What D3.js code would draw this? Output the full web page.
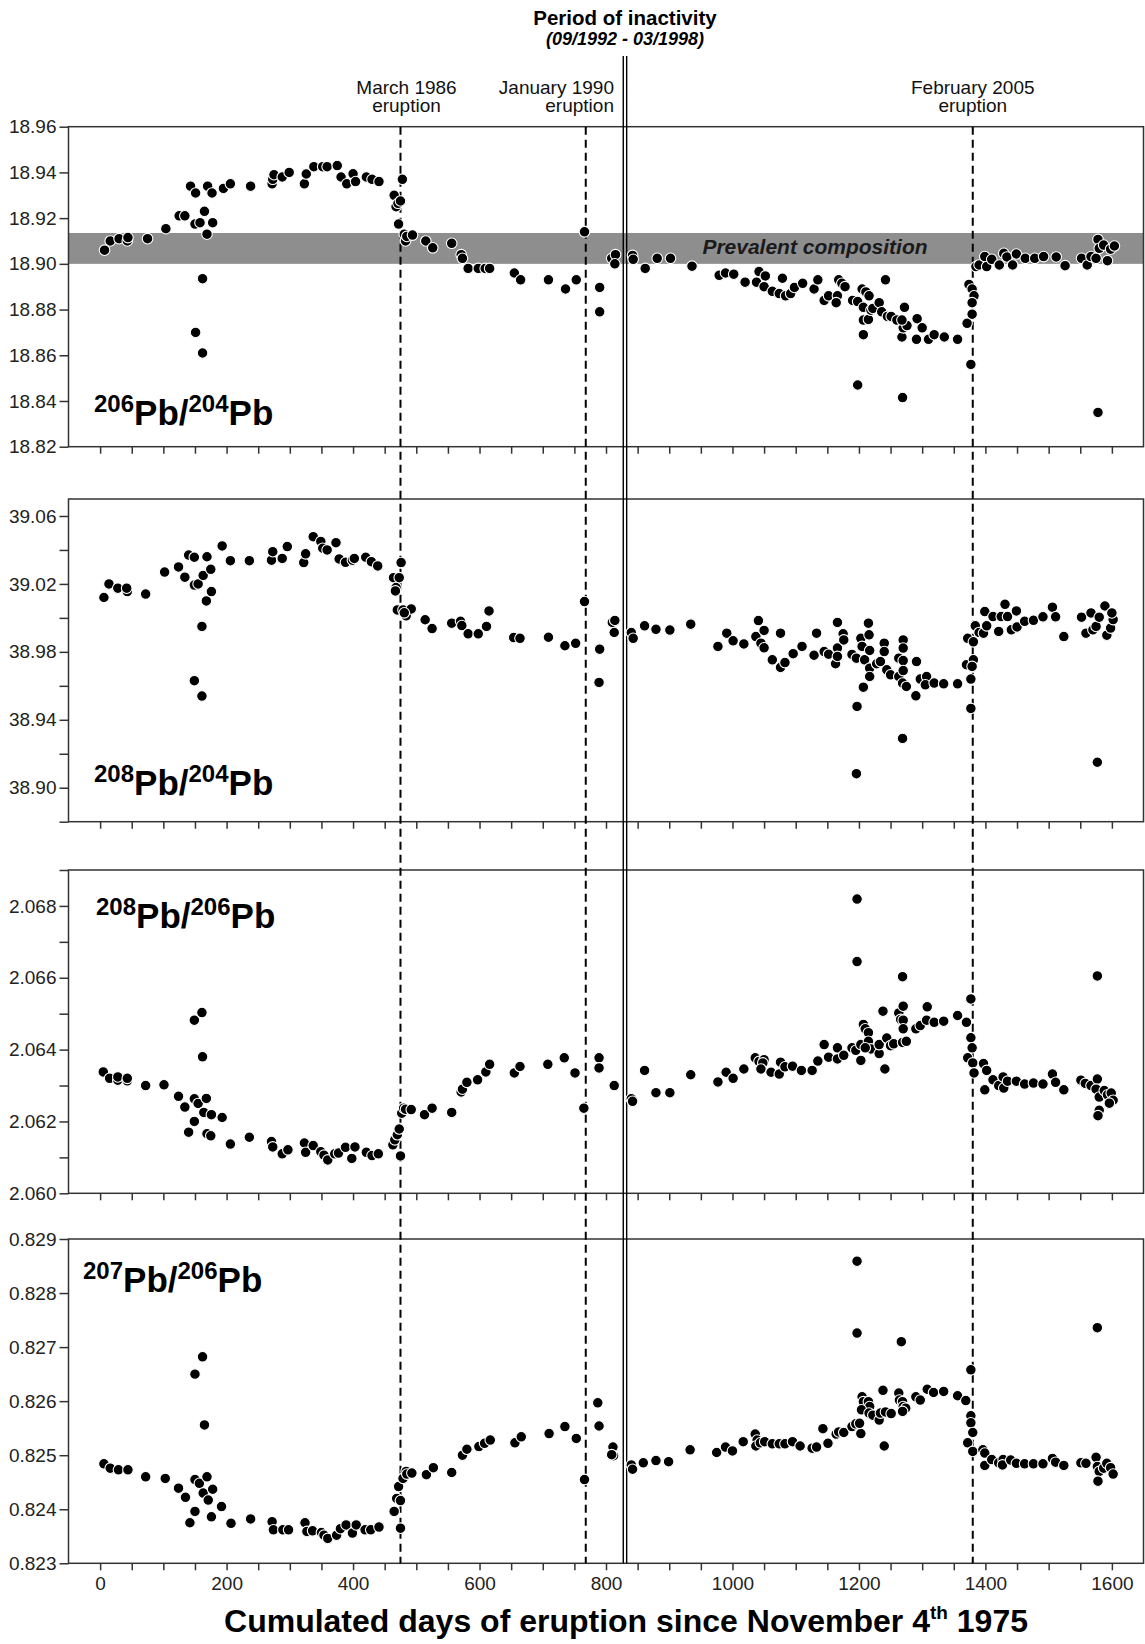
<!DOCTYPE html>
<html><head><meta charset="utf-8">
<script src="https://cdn.jsdelivr.net/npm/d3@7"></script>
<style>
html,body{margin:0;padding:0;background:#fff;}
svg text{font-family:"Liberation Sans",Arial,Helvetica,sans-serif;}
</style></head>
<body><svg id="chart" width="1145" height="1644"></svg>
<script>
// ---------------- DATA ----------------
const xTickLabels = [0,200,400,600,800,1000,1200,1400,1600];
const eruptionDays = [475, 768, 1380];
const eruptionLabels = [["March 1986","eruption"],["January 1990","eruption"],["February 2005","eruption"]];
const inactivityDay = 830;
const prevalentBand = [18.900, 18.9135];

const pb206_204 = [[7,18.906],[16,18.910],[30,18.911],[43,18.910],[44,18.9115],[75,18.911],[104,18.9154],[125,18.921],[134,18.921],[143,18.934],[151,18.931],[150,18.9174],[158,18.918],[165,18.923],[169,18.913],[162,18.8935],[151,18.870],[162,18.861],[170,18.934],[177,18.931],[178,18.918],[195,18.933],[206,18.935],[238,18.934],[272,18.935],[273,18.937],[275,18.939],[288,18.938],[299,18.940],[323,18.935],[326,18.9393],[338,18.9425],[352,18.9425],[359,18.9425],[375,18.943],[381,18.938],[390,18.935],[400,18.9394],[404,18.936],[421,18.938],[430,18.937],[441,18.936],[465,18.930],[468,18.925],[471,18.9265],[475,18.9275],[478,18.937],[472,18.9174],[481,18.913],[483,18.910],[485,18.912],[494,18.9126],[515,18.910],[526,18.907],[556,18.909],[571,18.904],[573,18.9024],[582,18.898],[598,18.898],[609,18.898],[616,18.898],[655,18.896],[665,18.893],[709,18.893],[736,18.889],[753,18.893],[766,18.914],[790,18.8897],[790,18.879],[809,18.9024],[815,18.904],[814,18.900],[842,18.9037],[843,18.902],[862,18.898],[881,18.9024],[902,18.9024],[936,18.899],[979,18.895],[989,18.896],[1002,18.8955],[1020,18.892],[1042,18.8966],[1038,18.892],[1052,18.8947],[1050,18.890],[1063,18.888],[1074,18.887],[1084,18.886],[1092,18.887],[1098,18.8897],[1111,18.8915],[1079,18.8937],[1129,18.889],[1135,18.893],[1145,18.884],[1152,18.886],[1166,18.886],[1164,18.883],[1168,18.893],[1173,18.8915],[1178,18.890],[1190,18.884],[1198,18.8835],[1205,18.889],[1211,18.8877],[1216,18.886],[1207,18.881],[1207,18.8754],[1207,18.869],[1215,18.8757],[1219,18.8797],[1222,18.8805],[1232,18.883],[1236,18.879],[1242,18.893],[1245,18.877],[1251,18.877],[1260,18.8754],[1268,18.868],[1270,18.872],[1272,18.881],[1276,18.873],[1268,18.8754],[1292,18.876],[1300,18.872],[1291,18.867],[1310,18.867],[1319,18.869],[1335,18.868],[1356,18.867],[1371,18.874],[1374,18.891],[1379,18.889],[1382,18.886],[1379,18.883],[1379,18.878],[1377,18.856],[1385,18.8988],[1390,18.8995],[1399,18.9032],[1402,18.8988],[1410,18.902],[1422,18.8995],[1429,18.9046],[1434,18.903],[1443,18.8995],[1449,18.9043],[1463,18.9024],[1478,18.9024],[1492,18.9032],[1512,18.903],[1526,18.8992],[1552,18.9024],[1561,18.8995],[1567,18.9032],[1575,18.9024],[1578,18.9107],[1580,18.9068],[1587,18.9082],[1593,18.9014],[1598,18.9064],[1604,18.9078],[1578,18.835],[1198,18.847],[1269,18.8415]];

const pb208_204 = [[6,39.012],[14,39.020],[28,39.0175],[43,39.0155],[42,39.0175],[72,39.014],[102,39.027],[124,39.030],[134,39.024],[140,39.037],[149,39.0357],[149,39.0193],[155,39.020],[163,39.025],[169,39.036],[168,39.010],[175,39.0286],[176,39.0155],[161,38.995],[149,38.963],[161,38.954],[193,39.0424],[206,39.0337],[236,39.0337],[271,39.034],[273,39.039],[288,39.035],[296,39.042],[322,39.0326],[325,39.0377],[337,39.0478],[349,39.045],[352,39.041],[359,39.040],[373,39.0443],[378,39.0347],[388,39.0327],[399,39.034],[402,39.035],[420,39.0357],[429,39.0331],[439,39.0306],[464,39.0237],[468,39.0179],[467,39.0159],[473,39.0237],[476,39.0326],[470,39.0047],[479,39.0047],[484,39.0012],[492,39.0053],[481,39.003],[514,38.9989],[525,38.9937],[556,38.9969],[570,38.998],[572,38.9955],[582,38.9906],[598,38.9906],[611,38.995],[615,39.0041],[654,38.9884],[664,38.988],[709,38.9886],[735,38.9836],[752,38.985],[766,39.0096],[790,38.9816],[789,38.962],[810,38.9973],[814,38.9985],[813,38.9914],[840,38.9914],[843,38.988],[861,38.9953],[879,38.9933],[901,38.9928],[934,38.9963],[977,38.9832],[991,38.991],[1001,38.9865],[1018,38.9847],[1041,38.9984],[1037,38.989],[1050,38.9926],[1045,38.9851],[1050,38.9824],[1063,38.9753],[1076,38.9708],[1083,38.9737],[1096,38.9789],[1110,38.9832],[1076,38.991],[1129,38.978],[1133,38.991],[1145,38.9802],[1152,38.9786],[1163,38.973],[1166,38.9822],[1166,38.9773],[1166,38.9973],[1175,38.9906],[1176,38.987],[1189,38.9785],[1196,38.9763],[1203,38.988],[1205,38.9832],[1209,38.9753],[1215,38.9969],[1216,38.990],[1217,38.9808],[1217,38.9704],[1217,38.9655],[1207,38.9592],[1197,38.9479],[1196,38.9083],[1228,38.973],[1234,38.9743],[1240,38.9851],[1240,38.9802],[1244,38.9694],[1250,38.9665],[1263,38.9763],[1263,38.9655],[1270,38.987],[1270,38.9822],[1270,38.9749],[1270,38.969],[1269,38.9616],[1275,38.9596],[1291,38.9743],[1290,38.9541],[1269,38.929],[1297,38.964],[1307,38.9655],[1305,38.9606],[1319,38.9616],[1334,38.9612],[1356,38.9612],[1370,38.9724],[1372,38.988],[1377,38.964],[1381,38.9859],[1381,38.9753],[1379,38.9714],[1377,38.9467],[1384,38.9953],[1390,38.9914],[1397,38.991],[1399,39.0037],[1402,38.9953],[1412,39.0008],[1421,38.992],[1425,39.0008],[1431,39.008],[1435,39.0008],[1441,38.993],[1449,39.0041],[1450,38.9947],[1462,38.998],[1476,38.9986],[1491,39.0006],[1506,39.0063],[1511,39.0006],[1524,38.989],[1552,39.0004],[1559,38.991],[1567,39.0029],[1570,38.993],[1575,38.995],[1580,39.0004],[1589,39.007],[1592,38.9898],[1598,38.994],[1602,38.999],[1600,39.0029],[1577,38.915]];

const pb208_206 = [[5,2.06338],[15,2.0632],[28,2.06315],[28,2.06324],[43,2.06313],[43,2.0632],[72,2.0630],[101,2.06302],[124,2.0627],[134,2.0624],[140,2.0617],[149,2.0620],[149,2.06263],[155,2.0625],[168,2.06264],[149,2.06482],[161,2.06503],[162,2.0638],[164,2.06225],[176,2.06219],[169,2.06166],[175,2.0616],[193,2.06211],[206,2.06137],[236,2.06156],[271,2.06144],[273,2.06129],[288,2.0611],[297,2.06121],[323,2.0614],[325,2.06114],[337,2.06133],[349,2.06116],[354,2.06106],[360,2.06093],[371,2.0611],[377,2.06112],[388,2.06128],[398,2.06097],[403,2.06129],[421,2.06114],[430,2.06105],[440,2.0611],[463,2.06135],[466,2.06149],[470,2.06163],[473,2.06179],[475,2.06104],[477,2.06223],[480,2.06237],[483,2.06234],[492,2.06233],[513,2.06219],[525,2.06237],[556,2.06225],[571,2.06282],[573,2.0629],[580,2.06309],[597,2.06316],[610,2.06338],[616,2.06359],[655,2.06335],[664,2.06353],[708,2.06359],[734,2.06377],[751,2.06335],[765,2.06237],[789,2.06377],[789,2.06349],[813,2.0630],[840,2.06263],[842,2.06256],[861,2.06342],[879,2.0628],[901,2.0628],[934,2.0633],[977,2.0631],[990,2.06337],[1001,2.0632],[1018,2.06346],[1036,2.06377],[1042,2.06367],[1050,2.06372],[1048,2.06363],[1045,2.06346],[1061,2.06337],[1074,2.06332],[1076,2.06365],[1083,2.06352],[1095,2.06354],[1109,2.06342],[1126,2.06342],[1135,2.06368],[1145,2.06414],[1152,2.06379],[1166,2.06405],[1166,2.06374],[1176,2.06384],[1189,2.06405],[1195,2.06398],[1203,2.0637],[1203,2.06414],[1207,2.0647],[1210,2.06458],[1215,2.06447],[1215,2.06423],[1219,2.06402],[1210,2.06405],[1232,2.06389],[1232,2.06414],[1241,2.06346],[1238,2.06507],[1244,2.06432],[1250,2.06411],[1255,2.06416],[1197,2.06819],[1197,2.06645],[1269,2.06603],[1263,2.06502],[1266,2.06484],[1270,2.06521],[1270,2.06482],[1270,2.06458],[1269,2.0642],[1275,2.06423],[1290,2.06458],[1297,2.06467],[1307,2.06482],[1308,2.06519],[1319,2.06476],[1334,2.06479],[1356,2.06495],[1370,2.06476],[1377,2.06541],[1377,2.06433],[1379,2.06405],[1372,2.06377],[1380,2.06363],[1382,2.06335],[1397,2.06361],[1399,2.06288],[1402,2.06342],[1412,2.06316],[1421,2.0630],[1428,2.06324],[1429,2.06293],[1435,2.06312],[1449,2.06312],[1462,2.06304],[1476,2.06307],[1491,2.06304],[1506,2.06332],[1511,2.06309],[1524,2.06288],[1551,2.06315],[1558,2.06306],[1567,2.0630],[1577,2.06318],[1575,2.0629],[1580,2.06268],[1580,2.06231],[1578,2.06216],[1588,2.06286],[1593,2.06274],[1599,2.06279],[1602,2.06259],[1596,2.06251],[1577,2.06605]];

const pb207_206 = [[6,0.82484],[16,0.82476],[29,0.82473],[44,0.82473],[72,0.8246],[103,0.82457],[124,0.82439],[135,0.82422],[142,0.82375],[150,0.82396],[150,0.82455],[157,0.82448],[163,0.8243],[169,0.8246],[171,0.82417],[176,0.82386],[178,0.82437],[150,0.8265],[162,0.82682],[165,0.82556],[192,0.82405],[207,0.82374],[238,0.82382],[272,0.82377],[274,0.82362],[289,0.82362],[298,0.82362],[324,0.82375],[327,0.82359],[336,0.8236],[350,0.82357],[354,0.82352],[360,0.82346],[374,0.82352],[380,0.82364],[389,0.82371],[399,0.82356],[405,0.82371],[419,0.82362],[428,0.82362],[441,0.82367],[465,0.82396],[469,0.8242],[472,0.82442],[475,0.82416],[475,0.82365],[479,0.82457],[484,0.8247],[485,0.82465],[493,0.82467],[516,0.82464],[527,0.82477],[556,0.82468],[573,0.825],[580,0.82511],[599,0.82516],[608,0.82522],[617,0.82528],[656,0.82523],[666,0.82534],[710,0.8254],[735,0.82553],[753,0.82531],[766,0.82455],[787,0.82597],[789,0.82554],[811,0.82515],[812,0.82499],[809,0.82501],[840,0.82482],[842,0.82474],[859,0.82486],[879,0.8249],[899,0.82488],[933,0.8251],[975,0.82505],[989,0.82515],[1000,0.82508],[1017,0.82525],[1036,0.82539],[1039,0.82528],[1037,0.82517],[1044,0.82523],[1051,0.82525],[1063,0.82521],[1074,0.82521],[1083,0.82521],[1095,0.82525],[1107,0.82517],[1126,0.82513],[1133,0.82515],[1143,0.82549],[1151,0.82522],[1164,0.82539],[1168,0.82543],[1176,0.82542],[1189,0.82553],[1195,0.82558],[1203,0.8254],[1201,0.82559],[1197,0.82859],[1197,0.82726],[1267,0.8271],[1240,0.82517],[1205,0.82608],[1207,0.82599],[1215,0.82599],[1217,0.8259],[1204,0.82584],[1216,0.82578],[1222,0.82574],[1232,0.82565],[1234,0.82578],[1238,0.8262],[1242,0.8258],[1251,0.82577],[1263,0.82615],[1264,0.82602],[1269,0.82599],[1270,0.8259],[1274,0.82587],[1269,0.82581],[1290,0.82608],[1297,0.82602],[1308,0.82622],[1318,0.82616],[1334,0.82618],[1356,0.8261],[1369,0.82601],[1377,0.82658],[1377,0.82573],[1377,0.8256],[1380,0.82542],[1372,0.82523],[1380,0.82507],[1396,0.8251],[1399,0.82504],[1399,0.82481],[1410,0.82492],[1421,0.82486],[1428,0.82492],[1427,0.82482],[1440,0.82491],[1449,0.82485],[1462,0.82484],[1476,0.82484],[1491,0.82484],[1506,0.82494],[1511,0.82487],[1524,0.82481],[1551,0.82486],[1559,0.82485],[1575,0.82496],[1577,0.82479],[1580,0.8247],[1578,0.82452],[1587,0.82476],[1592,0.82485],[1598,0.82477],[1602,0.82465],[1577,0.82736]];

// panel axis settings
const yDomains = [[18.82,18.96],[38.88,39.07],[2.060,2.069],[0.823,0.829]];
const yTicks = [
  [18.82,18.84,18.86,18.88,18.90,18.92,18.94,18.96],
  [38.88,38.90,38.92,38.94,38.96,38.98,39.00,39.02,39.04,39.06],
  [2.060,2.061,2.062,2.063,2.064,2.065,2.066,2.067,2.068,2.069],
  [0.823,0.824,0.825,0.826,0.827,0.828,0.829]];
const yTickLabels = [
  ["18.82","18.84","18.86","18.88","18.90","18.92","18.94","18.96"],
  ["38.90","38.94","38.98","39.02","39.06"],
  ["2.060","2.062","2.064","2.066","2.068"],
  ["0.823","0.824","0.825","0.826","0.827","0.828","0.829"]];
const panelNames = [["206","204"],["208","204"],["208","206"],["207","206"]];

// ---------------- LAYOUT ----------------
const svg = d3.select("#chart");
const FONT = '"Liberation Sans",Arial,Helvetica,sans-serif';
const left = 68.5, right = 1143.5;
const panels = [
  {top:126.7, bottom:446.7, data:pb206_204, lab:{x:94,y:425}},
  {top:499, bottom:821.7, data:pb208_204, lab:{x:94,y:795}},
  {top:870, bottom:1193.3, data:pb208_206, lab:{x:96,y:928}},
  {top:1239, bottom:1563.3, data:pb207_206, lab:{x:83,y:1292}}
];
const x = d3.scaleLinear().domain([-50,1650]).range([left,right]);
const axisCol = "#333";

// band (panel 1)
const y0 = d3.scaleLinear().domain(yDomains[0]).range([panels[0].bottom, panels[0].top]);
svg.append("rect").attr("x",left).attr("width",right-left)
  .attr("y",y0(prevalentBand[1])).attr("height",y0(prevalentBand[0])-y0(prevalentBand[1]))
  .attr("fill","#8e8e8e");
svg.append("text").attr("x",815).attr("y",254).attr("text-anchor","middle")
  .attr("font-size",21).attr("font-weight","bold").attr("font-style","italic").attr("fill","#1a1a1a")
  .text("Prevalent composition");

panels.forEach((p,i)=>{
  const y = d3.scaleLinear().domain(yDomains[i]).range([p.bottom,p.top]);
  p.y = y;
  const g = svg.append("g");
  g.append("rect").attr("x",left).attr("y",p.top).attr("width",right-left).attr("height",p.bottom-p.top)
    .attr("fill","none").attr("stroke",axisCol).attr("stroke-width",1.5);
  const labs = yTickLabels[i];
  const ya = d3.axisLeft(y).tickValues(yTicks[i]).tickSize(9).tickPadding(3)
    .tickFormat(d=>{ const s = (i<2?d3.format(".2f")(d):d3.format(".3f")(d)); return labs.includes(s)?s:""; });
  const yg = g.append("g").attr("transform",`translate(${left},0)`).call(ya);
  yg.select(".domain").remove();
  yg.selectAll(".tick line").attr("stroke",axisCol).attr("stroke-width",1.5);
  yg.selectAll("text").attr("font-size",19).attr("font-family",FONT).attr("fill","#222");
  const xa = d3.axisBottom(x).tickValues(d3.range(0,1601,50)).tickSize(7).tickPadding(6)
    .tickFormat(d=> i===3 && xTickLabels.includes(d) ? String(d) : "");
  const xg = g.append("g").attr("transform",`translate(0,${p.bottom})`).call(xa);
  xg.select(".domain").remove();
  xg.selectAll(".tick line").attr("stroke",axisCol).attr("stroke-width",1.5);
  xg.selectAll("text").attr("font-size",19).attr("font-family",FONT).attr("fill","#222");
  const t = g.append("text").attr("x",p.lab.x).attr("y",p.lab.y)
    .attr("font-weight","bold").attr("font-size",35).attr("fill","#000");
  t.append("tspan").attr("font-size",24).attr("dy",-13).text(panelNames[i][0]);
  t.append("tspan").attr("dy",13).text("Pb/");
  t.append("tspan").attr("font-size",24).attr("dy",-13).text(panelNames[i][1]);
  t.append("tspan").attr("dy",13).text("Pb");
});

// eruption dashed lines
const topY = panels[0].top, botY = panels[3].bottom;
eruptionDays.forEach(d=>{
  svg.append("line").attr("x1",x(d)).attr("x2",x(d)).attr("y1",topY).attr("y2",botY)
    .attr("stroke","#000").attr("stroke-width",2).attr("stroke-dasharray","8,5");
});
const labAnchor = ["middle","end","middle"];
const labX = [x(eruptionDays[0])+6, x(inactivityDay)-11, x(eruptionDays[2])];
eruptionLabels.forEach((l,i)=>{
  [94,112].forEach((yy,k)=>{
    svg.append("text").attr("x",labX[i]).attr("y",yy).attr("text-anchor",labAnchor[i])
      .attr("font-size",19).attr("fill","#111").text(l[k]);
  });
});
// inactivity double line
[-1.7,1.7].forEach(o=>{
  svg.append("line").attr("x1",x(inactivityDay)+o).attr("x2",x(inactivityDay)+o)
    .attr("y1",56).attr("y2",botY).attr("stroke","#000").attr("stroke-width",1.4);
});
svg.append("text").attr("x",x(inactivityDay)).attr("y",25).attr("text-anchor","middle")
  .attr("font-size",20.5).attr("font-weight","bold").attr("fill","#000").text("Period of inactivity");
svg.append("text").attr("x",x(inactivityDay)).attr("y",45).attr("text-anchor","middle")
  .attr("font-size",18).attr("font-weight","bold").attr("font-style","italic").attr("fill","#000").text("(09/1992 - 03/1998)");

// points
panels.forEach(p=>{
  svg.append("g").selectAll("circle").data(p.data).join("circle")
    .attr("cx",d=>x(d[0])).attr("cy",d=>p.y(d[1])).attr("r",5.3)
    .attr("fill","#000").attr("stroke","#fff").attr("stroke-width",1.1);
});

// x axis title
const xt = svg.append("text").attr("x",626).attr("y",1632).attr("text-anchor","middle")
  .attr("font-size",32).attr("font-weight","bold").attr("fill","#000");
xt.append("tspan").text("Cumulated days of eruption since November 4");
xt.append("tspan").attr("font-size",19).attr("dy",-13).text("th");
xt.append("tspan").attr("dy",13).text(" 1975");
</script></body></html>
